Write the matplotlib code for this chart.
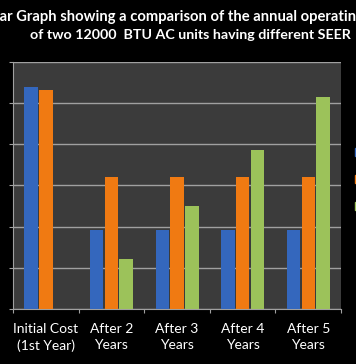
import numpy as np
import matplotlib.pyplot as plt
from matplotlib.patches import Patch

categories = ['Initial Cost\n(1st Year)', 'After 2\nYears', 'After 3\nYears',
              'After 4\nYears', 'After 5\nYears']
blue_vals = [5.40, 1.92, 1.92, 1.92, 1.92]
orange_vals = [5.32, 3.21, 3.21, 3.21, 3.21]
green_vals = [np.nan, 1.21, 2.51, 3.86, 5.15]
colors = ['#3467bd', '#f07a12', '#9cc25a']

fig = plt.figure(figsize=(3.56, 3.64), dpi=100, facecolor='black')
ax = fig.add_axes([0.0365, 0.151, 0.9215, 0.679])
ax.set_facecolor('#3b3b3b')

x = np.arange(len(categories))
w = 0.205
for i, (vals, c) in enumerate(zip([blue_vals, orange_vals, green_vals], colors)):
    ax.bar(x + (i - 1) * 0.225, vals, w, color=c, zorder=3)

ax.set_xlim(-0.5, len(categories) - 0.5)
ax.set_ylim(0, 6)
ax.set_yticks(range(7))
ax.set_yticklabels([])
ax.yaxis.grid(True, color='#a0a0a0', lw=1.0, zorder=0)
ax.set_xticks(np.arange(-0.5, len(categories), 1.0), minor=False)
ax.set_xticklabels([])
ax.set_xticks(x, minor=True)
ax.set_xticklabels(categories, minor=True, color='white', fontsize=10, family='Lato',
                   linespacing=1.45)
ax.tick_params(axis='x', which='minor', length=0, pad=10)
ax.tick_params(axis='x', which='major', length=3, color='#a0a0a0', direction='out')
ax.tick_params(axis='y', length=3, color='#a0a0a0', direction='out')
for s in ['top', 'right']:
    ax.spines[s].set_visible(False)
for s in ['left', 'bottom']:
    ax.spines[s].set_color('#a0a0a0')

fig.text(0.54, 0.952, 'Bar Graph showing a comparison of the annual operating cost',
         ha='center', va='center', color='white', fontsize=10.6, fontweight='bold', family='Lato')
fig.text(0.535, 0.903, 'of two 12000  BTU AC units having different SEER',
         ha='center', va='center', color='white', fontsize=10.3, fontweight='bold', family='Lato')

# legend is cut off at the right edge, only the colour keys show
handles = [Patch(color=c) for c in colors]
fig.legend(handles=handles, labels=['', '', ''], loc='center left',
           bbox_to_anchor=(0.97, 0.508), frameon=False, borderpad=0.3,
           handlelength=0.6, handleheight=0.6, labelspacing=1.2,
           prop={'family': 'Lato', 'size': 9})

fig.savefig('out.png', dpi=100, facecolor='black')
